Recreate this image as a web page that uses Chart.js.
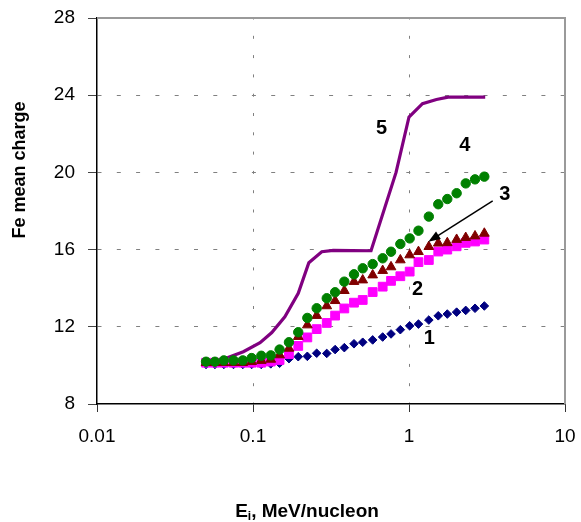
<!DOCTYPE html>
<html>
<head>
<meta charset="utf-8">
<script src="https://cdn.jsdelivr.net/npm/chart.js@4.4.0/dist/chart.umd.min.js"></script>
<style>
  html, body { margin: 0; padding: 0; background: #fff; }
  #wrap { width: 581px; height: 522px; }
</style>
</head>
<body>
<div id="wrap"><canvas id="myChart" width="581" height="522"></canvas></div>
<script>
// энергия иона, MeV/nucleon (общая для кривых 1-4)
const energy = [0.05, 0.057, 0.065, 0.075, 0.086, 0.098, 0.113, 0.13, 0.148, 0.17, 0.195, 0.223, 0.256, 0.297, 0.336,
  0.385, 0.444, 0.505, 0.585, 0.678, 0.767, 0.88, 1.01, 1.15, 1.34, 1.54, 1.76, 2.02, 2.31, 2.65, 3.04];

const charge1 = [10.05, 10.05, 10.05, 10.05, 10.05, 10.05, 10.05, 10.08, 10.11, 10.35, 10.45, 10.47, 10.63, 10.62, 10.82,
  10.92, 11.12, 11.2, 11.32, 11.47, 11.63, 11.85, 12.05, 12.14, 12.35, 12.57, 12.66, 12.76, 12.85, 12.96, 13.08];
const charge2 = [10.14, 10.14, 10.14, 10.14, 10.14, 10.14, 10.14, 10.2, 10.28, 10.59, 11.01, 11.45, 11.88, 12.2, 12.58,
  12.95, 13.25, 13.39, 13.8, 14.08, 14.38, 14.62, 14.86, 15.35, 15.46, 15.9, 16.0, 16.17, 16.35, 16.42, 16.52];
const charge3 = [10.14, 10.14, 10.14, 10.14, 10.14, 10.19, 10.25, 10.31, 10.54, 10.88, 11.49, 12.09, 12.58, 13.08, 13.35,
  13.87, 14.34, 14.42, 14.68, 14.91, 15.1, 15.46, 15.72, 15.89, 16.15, 16.33, 16.35, 16.52, 16.62, 16.7, 16.84];
const charge4 = [10.19, 10.19, 10.26, 10.26, 10.26, 10.38, 10.5, 10.52, 10.82, 11.2, 11.72, 12.46, 12.96, 13.48, 13.79,
  14.34, 14.72, 15.03, 15.25, 15.55, 15.89, 16.29, 16.58, 16.98, 17.71, 18.35, 18.62, 18.92, 19.43, 19.64, 19.78];

// кривая 5 - сплошная линия
const curve5Energy = [0.05, 0.0645, 0.0867, 0.111, 0.132, 0.16, 0.195, 0.228, 0.276, 0.327, 0.571, 0.826, 1.0, 1.22, 1.5, 1.78, 3.08];
const curve5Charge = [10.05, 10.32, 10.71, 11.18, 11.7, 12.52, 13.74, 15.32, 15.89, 15.96, 15.94, 20.0, 22.87, 23.56, 23.78, 23.9, 23.9];

const xTicks = [0.01, 0.1, 1, 10];
const yMin = 8, yMax = 28, yStep = 4;

// подписи кривых (в координатах данных)
const curveLabels = ['1', '2', '3', '4', '5'];
const labelEnergy = [1.348, 1.133, 4.11, 2.28, 0.668];
const labelCharge = [11.38, 13.93, 18.84, 21.37, 22.29];
const arrowFrom = [3.44, 18.53];
const arrowTo = [1.33, 16.41];

const FONT = '"Liberation Sans", Arial, sans-serif';

function points(xs, ys) {
    return xs.map((x, i) => ({ x: x, y: ys[i] }));
}

const decorations = {
    id: 'decorations',
    beforeDatasetsDraw(chart) {
        const { ctx, chartArea: a } = chart;
        ctx.save();
        ctx.strokeStyle = '#9a9a9a';
        ctx.lineWidth = 2;
        ctx.beginPath();
        ctx.moveTo(a.left, a.top);
        ctx.lineTo(a.right, a.top);
        ctx.lineTo(a.right, a.bottom);
        ctx.stroke();
        ctx.restore();
    },
    afterDatasetsDraw(chart) {
        const { ctx, scales: { x, y } } = chart;
        ctx.save();
        ctx.fillStyle = '#000';
        ctx.strokeStyle = '#000';

        // номера кривых
        ctx.font = 'bold 20px ' + FONT;
        ctx.textAlign = 'center';
        ctx.textBaseline = 'middle';
        curveLabels.forEach((t, i) => {
            ctx.fillText(t, x.getPixelForValue(labelEnergy[i]), y.getPixelForValue(labelCharge[i]));
        });

        // стрелка к кривой 3
        const x1 = x.getPixelForValue(arrowFrom[0]), y1 = y.getPixelForValue(arrowFrom[1]);
        const x2 = x.getPixelForValue(arrowTo[0]), y2 = y.getPixelForValue(arrowTo[1]);
        const ang = Math.atan2(y2 - y1, x2 - x1);
        const head = 12, half = 4.5;
        ctx.lineWidth = 1.5;
        ctx.beginPath();
        ctx.moveTo(x1, y1);
        ctx.lineTo(x2 - Math.cos(ang) * head * 0.8, y2 - Math.sin(ang) * head * 0.8);
        ctx.stroke();
        ctx.beginPath();
        ctx.moveTo(x2, y2);
        ctx.lineTo(x2 - Math.cos(ang) * head + Math.sin(ang) * half, y2 - Math.sin(ang) * head - Math.cos(ang) * half);
        ctx.lineTo(x2 - Math.cos(ang) * head - Math.sin(ang) * half, y2 - Math.sin(ang) * head + Math.cos(ang) * half);
        ctx.closePath();
        ctx.fill();

        // подпись оси Y
        ctx.save();
        ctx.font = 'bold 18px ' + FONT;
        ctx.translate(20, 170);
        ctx.rotate(-Math.PI / 2);
        ctx.textAlign = 'center';
        ctx.textBaseline = 'middle';
        ctx.fillText('Fe mean charge', 0, 0);
        ctx.restore();

        // подпись оси X с индексом i
        const big = 'bold 19px ' + FONT, small = 'bold 12px ' + FONT;
        ctx.textAlign = 'left';
        ctx.textBaseline = 'alphabetic';
        ctx.font = big;
        const wE = ctx.measureText('E').width;
        const wRest = ctx.measureText(', MeV/nucleon').width;
        ctx.font = small;
        const wI = ctx.measureText('i').width;
        let tx = 307 - (wE + wI + wRest) / 2;
        const base = 517;
        ctx.font = big;
        ctx.fillText('E', tx, base);
        tx += wE;
        ctx.font = small;
        ctx.fillText('i', tx, base + 3);
        tx += wI;
        ctx.font = big;
        ctx.fillText(', MeV/nucleon', tx, base);
        ctx.restore();
    }
};

const markerSet = (label, ys, color, style, radius, order) => ({
    label: label,
    data: points(energy, ys),
    showLine: false,
    pointStyle: style,
    pointRadius: radius,
    pointBackgroundColor: color,
    pointBorderColor: color,
    pointBorderWidth: 1,
    order: order
});

const plot = document.getElementById('myChart').getContext('2d');
new Chart(plot, {
    type: 'scatter',
    data: {
        datasets: [
            markerSet('1', charge1, '#000080', 'rectRot', 4.3, 4),
            markerSet('2', charge2, '#ff00ff', 'rect', 6.2, 3),
            markerSet('3', charge3, '#800000', 'triangle', 5.6, 2),
            markerSet('4', charge4, '#008000', 'circle', 4.7, 1),
            {
                label: '5',
                data: points(curve5Energy, curve5Charge),
                showLine: true,
                borderColor: '#800080',
                borderWidth: 3.2,
                pointRadius: 0,
                tension: 0,
                fill: false,
                order: 5
            }
        ]
    },
    options: {
        responsive: false,
        animation: false,
        layout: { padding: { top: 18, right: 16, left: 0, bottom: 0 } },
        plugins: { legend: { display: false }, tooltip: { enabled: false } },
        scales: {
            x: {
                type: 'logarithmic',
                position: 'bottom',
                min: 0.01,
                max: 10,
                afterBuildTicks: s => { s.ticks = xTicks.map(v => ({ value: v })); },
                afterFit: s => {
                    s.height = 118;
                    s.paddingLeft = 0;
                    s.paddingRight = 0;
                },
                ticks: {
                    autoSkip: false,
                    maxRotation: 0,
                    padding: 13,
                    color: '#000',
                    font: { family: FONT, size: 19 },
                    callback: v => String(v)
                },
                grid: {
                    color: c => (c.tick && (c.tick.value === 0.1 || c.tick.value === 1)) ? '#808080' : 'rgba(0,0,0,0)',
                    lineWidth: 1,
                    tickLength: 8,
                    tickColor: '#333',
                    tickWidth: 1
                },
                border: { color: '#000', width: 1.5, dash: [3, 16.3], dashOffset: 1.5 }
            },
            y: {
                min: yMin,
                max: yMax,
                afterFit: s => {
                    s.width = 97;
                    s.paddingTop = 0;
                    s.paddingBottom = 0;
                },
                ticks: {
                    stepSize: yStep,
                    padding: 13,
                    color: '#000',
                    font: { family: FONT, size: 19 }
                },
                grid: {
                    color: c => (c.tick && c.tick.value > yMin && c.tick.value < yMax) ? '#808080' : 'rgba(0,0,0,0)',
                    lineWidth: 1,
                    tickLength: 9,
                    tickColor: '#444',
                    tickWidth: 1
                },
                border: { color: '#000', width: 1.5, dash: [4, 15.3] }
            }
        }
    },
    plugins: [decorations]
});
</script>
</body>
</html>
